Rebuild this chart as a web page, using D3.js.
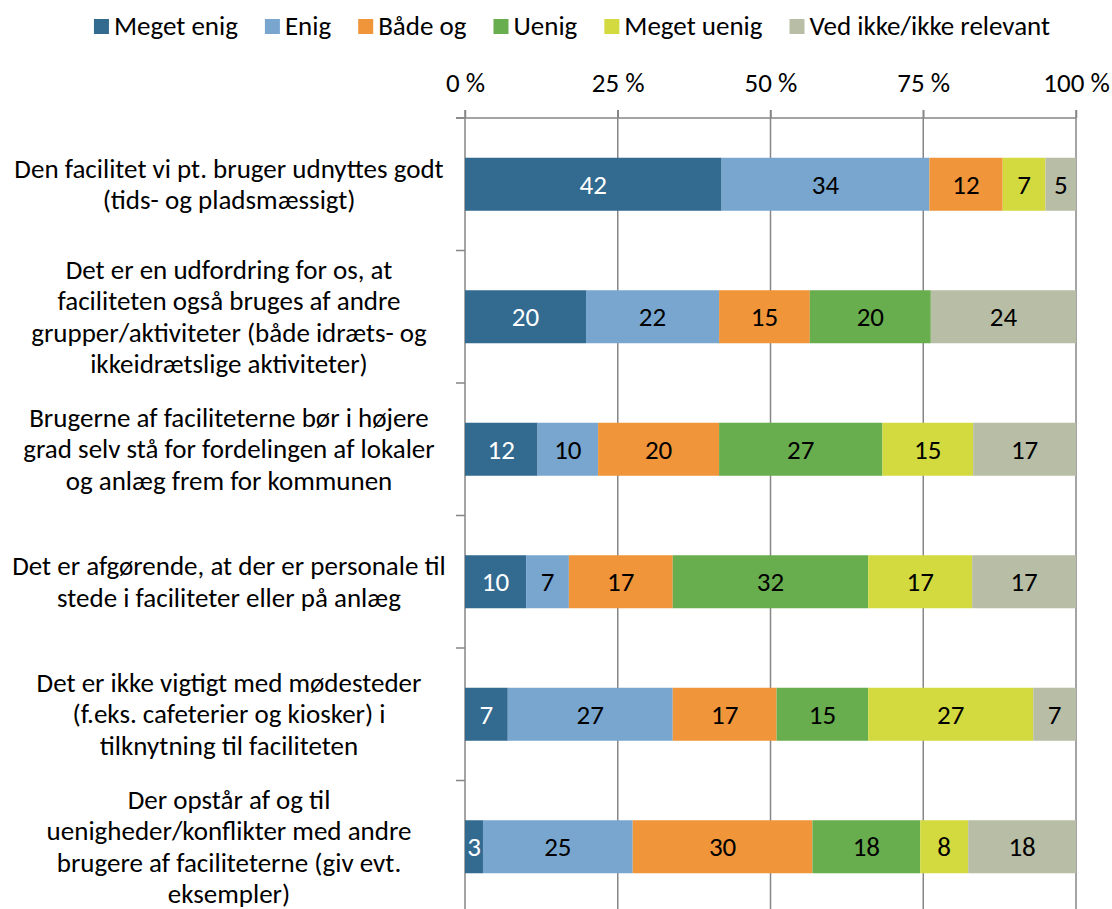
<!DOCTYPE html>
<html>
<head>
<meta charset="utf-8">
<script src="https://cdn.jsdelivr.net/npm/d3@7/dist/d3.min.js"></script>
<style>
  html, body { margin: 0; padding: 0; background: #fff; }
  svg text { font-family: Calibri, Carlito, Lato, "Noto Sans", sans-serif; fill: #000; }
</style>
</head>
<body>
<svg id="chart" width="1112" height="909"></svg>
<script>
// Survey statements (line breaks mark where each label wraps)
const categories = [
  "Den facilitet vi pt. bruger udnyttes godt\n(tids- og pladsmæssigt)",
  "Det er en udfordring for os, at\nfaciliteten også bruges af andre\ngrupper/aktiviteter (både idræts- og\nikkeidrætslige aktiviteter)",
  "Brugerne af faciliteterne bør i højere\ngrad selv stå for fordelingen af lokaler\nog anlæg frem for kommunen",
  "Det er afgørende, at der er personale til\nstede i faciliteter eller på anlæg",
  "Det er ikke vigtigt med mødesteder\n(f.eks. cafeterier og kiosker) i\ntilknytning til faciliteten",
  "Der opstår af og til\nuenigheder/konflikter med andre\nbrugere af faciliteterne (giv evt.\neksempler)"
];

const seriesNames = ["Meget enig", "Enig", "Både og", "Uenig", "Meget uenig", "Ved ikke/ikke relevant"];

// Percent answering each option, one value per statement
const megetEnig  = [42, 20, 12, 10, 7, 3];
const enig       = [34, 22, 10, 7, 27, 25];
const baadeOg    = [12, 15, 20, 17, 17, 30];
const uenig      = [0, 20, 27, 32, 15, 18];
const megetUenig = [7, 0, 15, 17, 27, 8];
const vedIkke    = [5, 24, 17, 17, 7, 18];

const tickValues = [0, 0.25, 0.5, 0.75, 1];
const tickLabels = ["0 %", "25 %", "50 %", "75 %", "100 %"];

const colors = ["#336A90", "#78A6CF", "#F0953A", "#68AD4E", "#D2DA3F", "#B8BDA5"];

const seriesValues = [megetEnig, enig, baadeOg, uenig, megetUenig, vedIkke];
const rows = categories.map((c, i) => {
  const r = { category: c };
  seriesNames.forEach((s, j) => { r[s] = seriesValues[j][i]; });
  return r;
});

const fontSize = 27;
const svg = d3.select("#chart");
const margin = { left: 465, right: 36, top: 118, bottom: -4 };
const width = 1112 - margin.left - margin.right;
const height = 909 - margin.top - margin.bottom;
const g = svg.append("g").attr("transform", `translate(${margin.left},${margin.top})`);

const x = d3.scaleLinear().domain([0, 1]).range([0, width]);
const y = d3.scaleBand().domain(categories).range([0, height]).paddingInner(0.6).paddingOuter(0.3);
const band = height / categories.length;

const stack = d3.stack().keys(seriesNames).offset(d3.stackOffsetExpand);
const stacked = stack(rows);

const gridColor = "#868686";

// Vertical gridlines with short outer ticks above the plot
g.append("g").selectAll("line").data(tickValues.slice(1)).join("line")
  .attr("x1", d => x(d)).attr("x2", d => x(d))
  .attr("y1", -8).attr("y2", height)
  .attr("stroke", gridColor).attr("stroke-width", 1.5);

// Top value axis
const xAxis = d3.axisTop(x).tickValues(tickValues).tickFormat((d, i) => tickLabels[i]).tickSize(8).tickPadding(18);
const xg = g.append("g").call(xAxis);
xg.select(".domain").attr("stroke", gridColor).attr("stroke-width", 1.5).attr("d", `M-9,0H${width}`);
xg.selectAll(".tick line").attr("stroke", gridColor).attr("stroke-width", 1.5);
xg.selectAll(".tick text").attr("font-size", fontSize).attr("fill", "#000").attr("dy", "0");

// Left category axis line and boundary ticks
g.append("line").attr("x1", 0).attr("x2", 0).attr("y1", -8).attr("y2", height)
  .attr("stroke", gridColor).attr("stroke-width", 1.5);
g.append("g").selectAll("line").data(d3.range(categories.length + 1)).join("line")
  .attr("x1", -9).attr("x2", 0)
  .attr("y1", d => d * band).attr("y2", d => d * band)
  .attr("stroke", gridColor).attr("stroke-width", 1.5);

// Bar segments
const layers = g.append("g").selectAll("g").data(stacked).join("g")
  .attr("fill", (d, i) => colors[i]);
layers.selectAll("rect").data(d => d.filter(p => p.data[d.key] > 0)).join("rect")
  .attr("x", p => x(p[0]))
  .attr("width", p => x(p[1]) - x(p[0]))
  .attr("y", p => y(p.data.category))
  .attr("height", y.bandwidth());

// Value labels centred in each segment
const labelLayers = g.append("g").selectAll("g").data(stacked).join("g");
labelLayers.each(function(layer, i) {
  d3.select(this).selectAll("text").data(layer.filter(p => p.data[layer.key] > 0)).join("text")
    .attr("x", p => (x(p[0]) + x(p[1])) / 2)
    .attr("y", p => y(p.data.category) + y.bandwidth() / 2)
    .attr("dy", "0.36em")
    .attr("text-anchor", "middle")
    .attr("font-size", fontSize)
    .style("fill", i === 0 ? "#fff" : "#000")
    .text(p => p.data[layer.key]);
});

// Category labels, centred and wrapped on their line breaks
const lineH = 31.5;
const catG = svg.append("g");
categories.forEach((c, i) => {
  const lines = c.split("\n");
  const cy = margin.top + (i + 0.5) * band;
  const t = catG.append("text").attr("text-anchor", "middle").attr("font-size", fontSize);
  lines.forEach((ln, k) => {
    t.append("tspan").attr("x", 229)
      .attr("y", cy + (k - (lines.length - 1) / 2) * lineH)
      .attr("dy", "0.34em")
      .text(ln);
  });
});

// Legend across the top
const legend = svg.append("g");
const legendGap = 27;
let lx = 0;
seriesNames.forEach((s, i) => {
  const item = legend.append("g").attr("transform", `translate(${lx},0)`);
  item.append("rect").attr("x", 0).attr("y", 19).attr("width", 15).attr("height", 15).attr("fill", colors[i]);
  const tx = item.append("text").attr("x", 20).attr("y", 35)
    .attr("font-size", fontSize).text(s);
  lx += 20 + tx.node().getComputedTextLength() + legendGap;
});
const legendW = lx - legendGap;
legend.attr("transform", `translate(${(94 + 1050) / 2 - legendW / 2},0)`);
</script>
</body>
</html>
